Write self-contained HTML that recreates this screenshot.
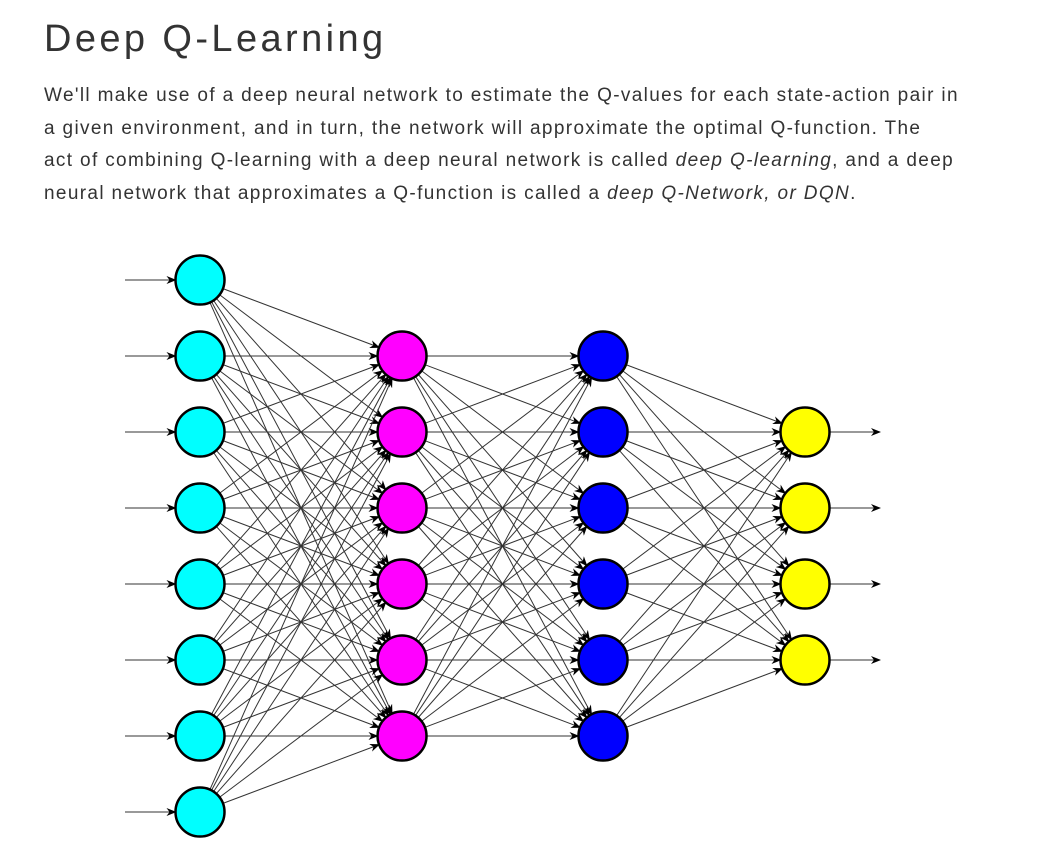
<!DOCTYPE html>
<html><head><meta charset="utf-8"><style>
body{margin:0;background:#fff;width:1039px;height:855px;overflow:hidden;font-family:"Liberation Sans",sans-serif;color:#333}
h1{position:absolute;left:44px;top:18px;margin:0;font-weight:300;font-size:38px;letter-spacing:3.4px;color:#333;white-space:nowrap}
p{position:absolute;left:44px;top:80px;margin:0;width:1000px;font-size:19px;line-height:32.5px;color:#333;letter-spacing:1.35px;white-space:nowrap}
svg{position:absolute;left:0;top:0}
</style></head><body>
<h1>Deep Q-Learning</h1>
<p>We'll make use of a deep neural network to estimate the Q-values for each state-action pair in<br>a given environment, and in turn, the network will approximate the optimal Q-function. The<br>act of combining Q-learning with a deep neural network is called <i>deep Q-learning</i>, and a deep<br>neural network that approximates a Q-function is called a <i>deep Q-Network, or DQN</i>.</p>
<svg id="s" width="1039" height="855" xmlns="http://www.w3.org/2000/svg">
<defs><marker id="a" markerWidth="10" markerHeight="8" refX="9" refY="4" orient="auto" markerUnits="userSpaceOnUse"><path d="M0,0 L10,4 L0,8 L3,4 Z" fill="#000"/></marker></defs>
<g id="L" stroke="#333" stroke-width="1" fill="none"></g>
<g id="N" stroke="#000" stroke-width="2.5"></g>
</svg>
<script>
var ns="http://www.w3.org/2000/svg",R=24.5;
function Y(i){return 280+i*76;}
var layers=[
 {x:200,ys:[0,1,2,3,4,5,6,7].map(Y),c:"#00ffff"},
 {x:402,ys:[1,2,3,4,5,6].map(Y),c:"#ff00ff"},
 {x:603,ys:[1,2,3,4,5,6].map(Y),c:"#0000ff"},
 {x:805,ys:[2,3,4,5].map(Y),c:"#ffff00"}];
var L=document.getElementById("L"),N=document.getElementById("N");
function line(x1,y1,x2,y2){var l=document.createElementNS(ns,"line");l.setAttribute("x1",x1);l.setAttribute("y1",y1);l.setAttribute("x2",x2);l.setAttribute("y2",y2);l.setAttribute("marker-end","url(#a)");L.appendChild(l);}
for(var k=0;k<3;k++){var A=layers[k],B=layers[k+1];
 A.ys.forEach(function(y1){B.ys.forEach(function(y2){
  var dx=B.x-A.x,dy=y2-y1,d=Math.sqrt(dx*dx+dy*dy),ux=dx/d,uy=dy/d;
  line(A.x+ux*R,y1+uy*R,B.x-ux*R,y2-uy*R);});});}
layers[0].ys.forEach(function(y){line(125,y,200-R,y);});
layers[3].ys.forEach(function(y){line(805+R,y,880,y);});
layers.forEach(function(Ly){Ly.ys.forEach(function(y){var c=document.createElementNS(ns,"circle");c.setAttribute("cx",Ly.x);c.setAttribute("cy",y);c.setAttribute("r",R);c.setAttribute("fill",Ly.c);N.appendChild(c);});});
</script>
</body></html>
